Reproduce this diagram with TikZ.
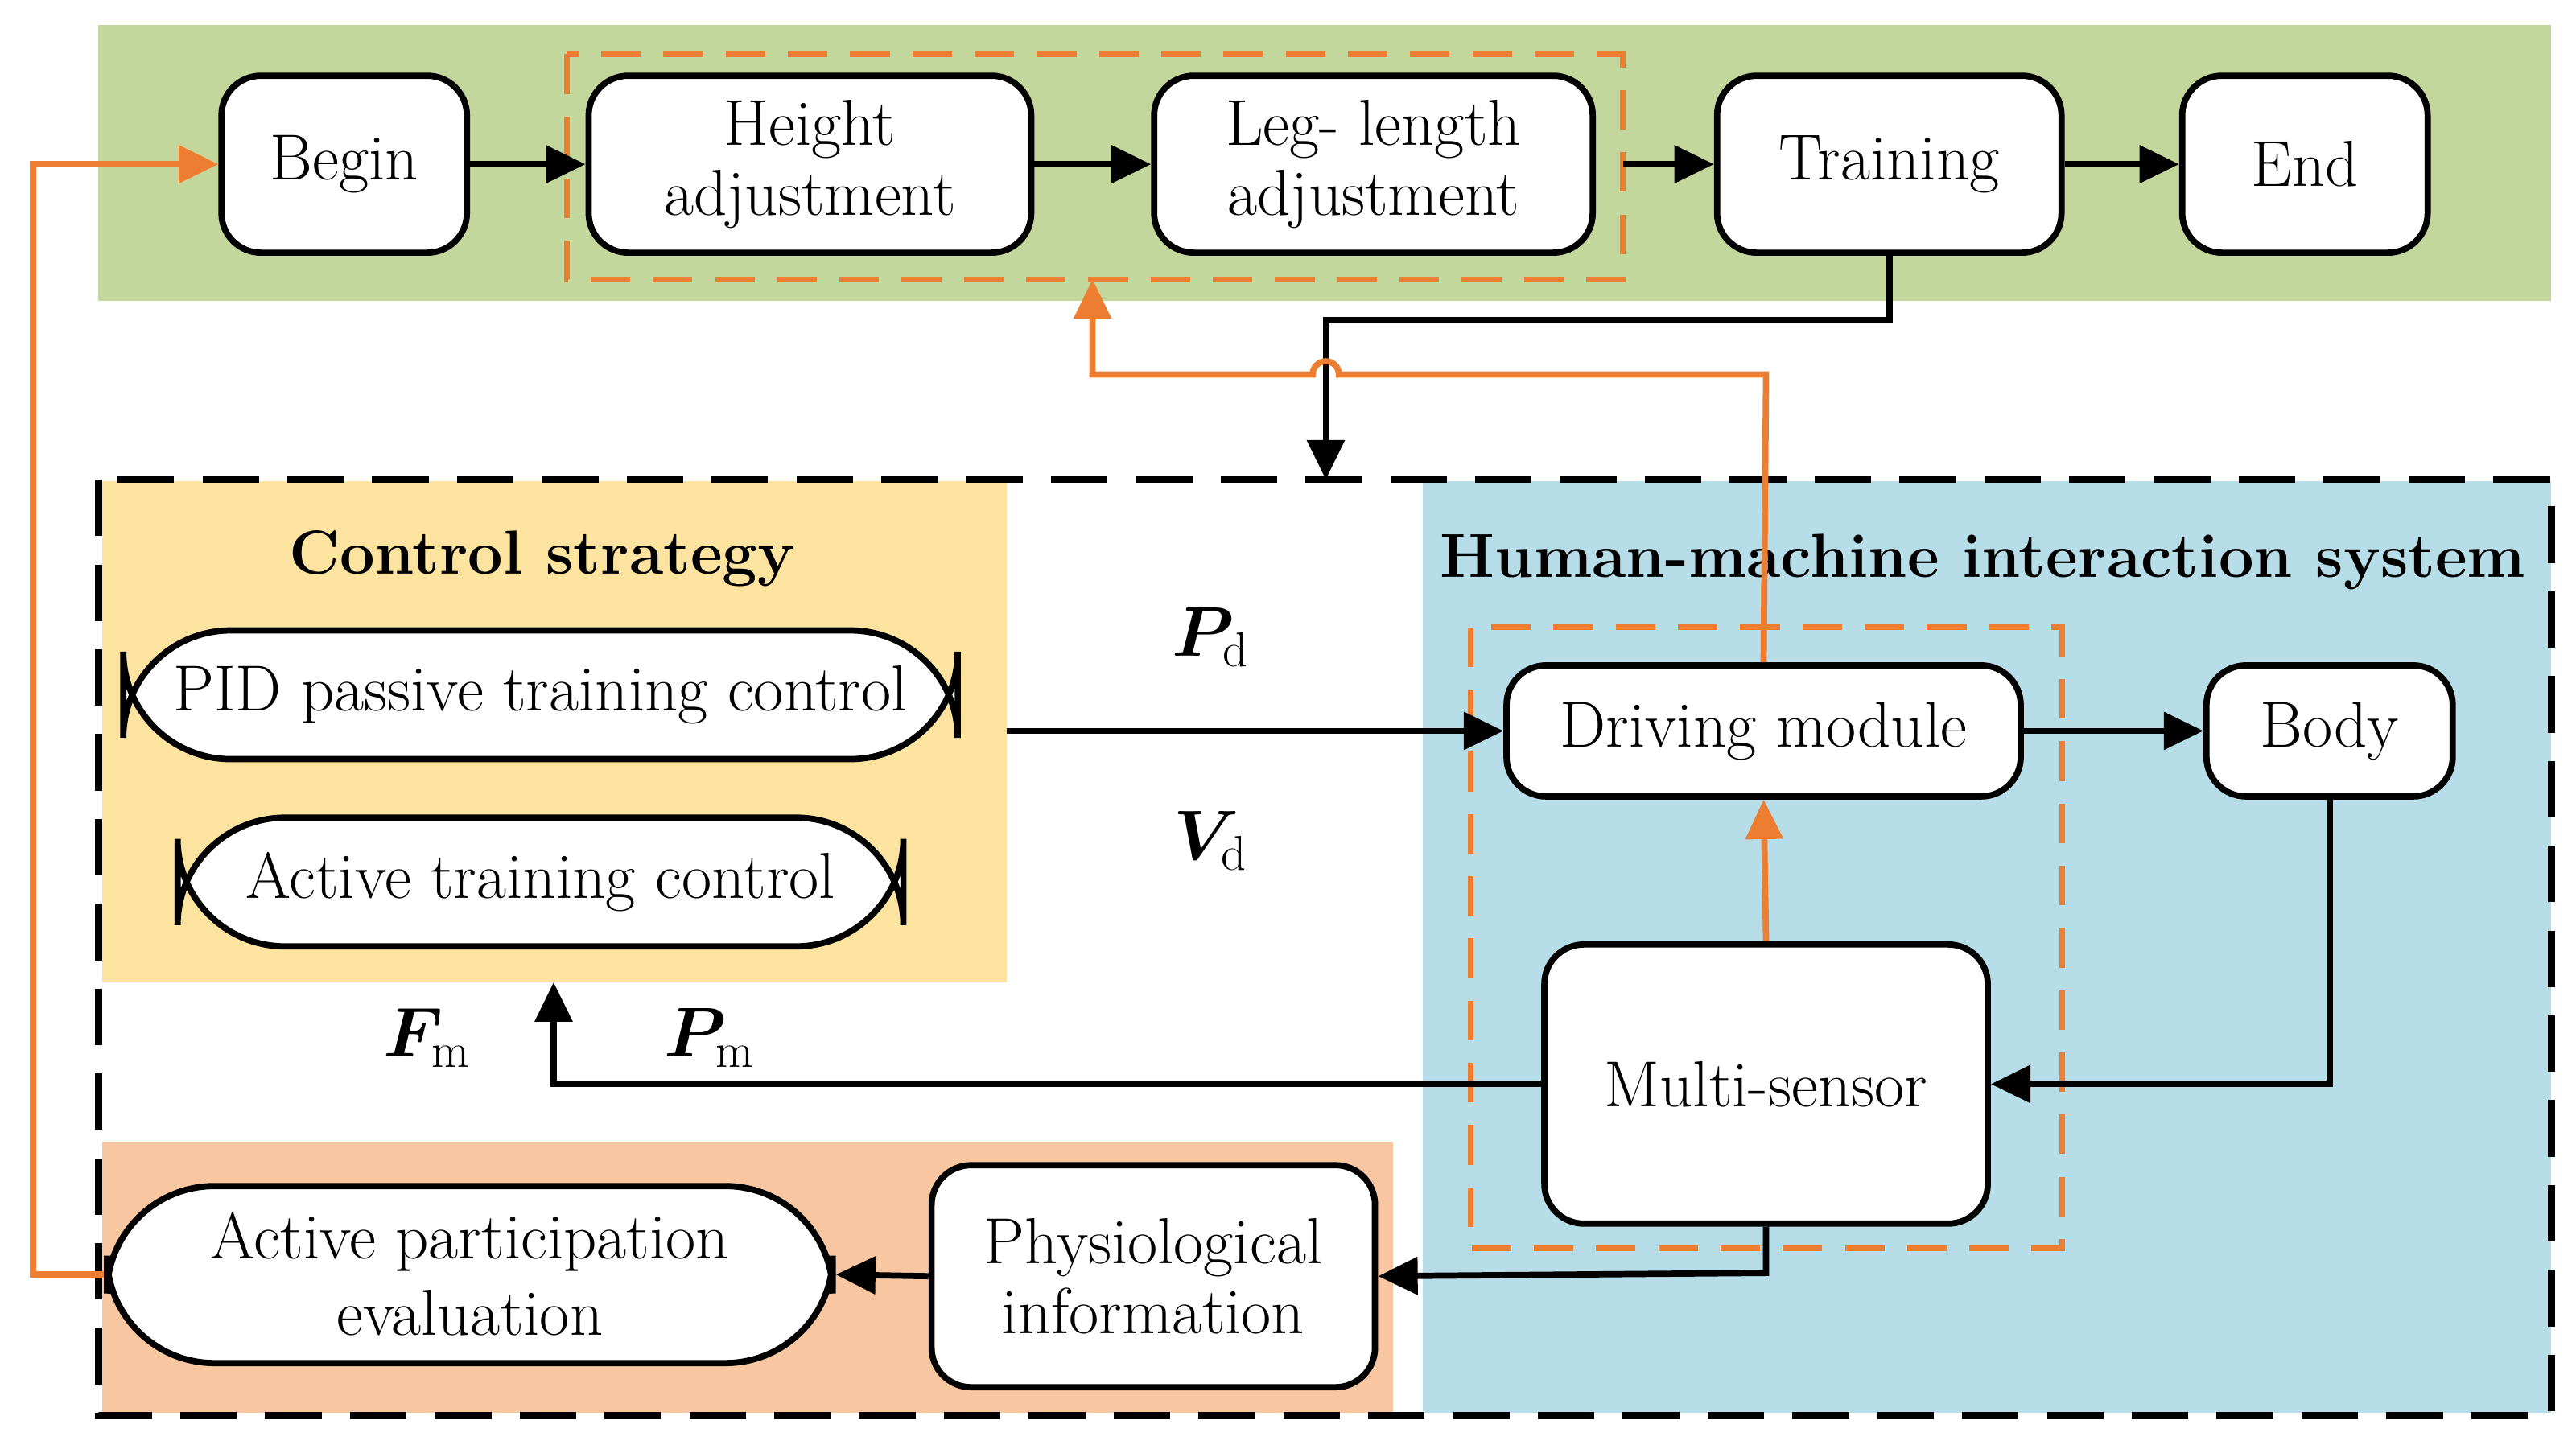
\documentclass[tikz,border=0pt]{standalone}
\usepackage{bm}
\usetikzlibrary{arrows.meta}
\begin{document}
\fontsize{23}{27}\selectfont
\begin{tikzpicture}[x=0.020415cm,y=-0.020415cm,
 box/.style={draw=black,line width=2.2pt,rounded corners=14pt,align=center,inner sep=0pt,font=\fontsize{23}{25}\selectfont},
 pill/.style={draw=black,line width=2.2pt,rounded corners=38pt,align=center,inner sep=0pt},
 ar/.style={line width=2.2pt,-{Triangle[length=14pt,width=13pt]}},
 oar/.style={line width=2.2pt,draw={rgb,255:red,237;green,125;blue,49},-{Triangle[length=14pt,width=13pt]}},
 od/.style={line width=2pt,draw={rgb,255:red,237;green,125;blue,49},dash pattern=on 14pt off 8pt},
 lab/.style={font=\fontsize{26}{28}\selectfont}]
\useasboundingbox (0,0) rectangle (1568,877);
\fill[fill={rgb,255:red,195;green,214;blue,155}] (60,15) rectangle (1553,183);
\fill[fill={rgb,255:red,183;green,221;blue,232}] (866,293) rectangle (1553,860);
\fill[fill={rgb,255:red,252;green,228;blue,160}] (62,293) rectangle (613,598);
\fill[fill={rgb,255:red,248;green,198;blue,160}] (62,695) rectangle (848,860);
\draw[line width=2.5pt,dash pattern=on 20pt off 10pt] (60,292) rectangle (1553,862);
\draw[od] (345,33) rectangle (988,170);
\draw[od] (895,382) rectangle (1255,760);

\node[box,fill=white,minimum width=3.05cm,minimum height=2.2cm] (begin) at (209.5,100) {Begin};
\node[box,fill=white,minimum width=5.5cm,minimum height=2.2cm] (height) at (493,100) {Height\\adjustment};
\node[box,fill=white,minimum width=5.45cm,minimum height=2.2cm] (leg) at (836,100) {Leg- length\\adjustment};
\node[box,fill=white,minimum width=4.28cm,minimum height=2.2cm] (train) at (1150,100) {Training};
\node[box,fill=white,minimum width=3.05cm,minimum height=2.2cm] (end) at (1403,100) {End};

\node[font=\bfseries\fontsize{22}{26}\selectfont] (cs) at (330,340) {Control strategy};
\node[font=\bfseries\fontsize{22}{26}\selectfont] (hm) at (1207,342) {Human-machine interaction system};
\node[pill,fill=white,minimum width=10.37cm,minimum height=1.6cm] (pid) at (329,423) {PID passive training control};
\node[pill,fill=white,minimum width=9.02cm,minimum height=1.6cm] (act) at (329,537) {Active training control};
\node[box,fill=white,minimum width=6.39cm,minimum height=1.63cm] (drive) at (1073.5,445) {Driving module};
\node[box,fill=white,minimum width=3.06cm,minimum height=1.63cm] (body) at (1418,445) {Body};
\node[box,fill=white,minimum width=5.51cm,minimum height=3.47cm] (ms) at (1075,660) {Multi-sensor};
\node[box,fill=white,minimum width=5.51cm,minimum height=2.76cm] (phys) at (702,777) {Physiological\\information};
\node[pill,fill=white,minimum width=9.02cm,minimum height=2.2cm] (ape) at (286,776) {Active participation\\evaluation};

\node[lab] (pd) at (737,388) {$\bm{P}_{\mathrm{d}}$};
\node[lab] (vd) at (737,512) {$\bm{V}_{\mathrm{d}}$};
\node[lab] (fm) at (260,632) {$\bm{F}_{\mathrm{m}}$};
\node[lab] (pm) at (432,632) {$\bm{P}_{\mathrm{m}}$};

\coordinate (odb) at (665,170);
\coordinate (csb) at (337,598);
\coordinate (bigtop) at (807,292);
\coordinate (ysr) at (613,445);

\draw[ar] (begin) -- (height);
\draw[ar] (height) -- (leg);
\draw[ar] (988,100) -- (train);
\draw[ar] (train) -- (end);
\draw[ar] (train.south) -- (1150,195) -- (807,195) -- (bigtop);
\draw[oar] (drive.north) -- (1075,228) -- (815,228) arc (0:-180:8) -- (665,228) -- (odb);
\draw[oar] (ms.north) -- (drive.south);
\draw[oar] (ape.west) -- (20,776) -- (20,100) -- (begin.west);
\draw[ar] (ysr) -- (drive.west);
\draw[ar] (drive) -- (body);
\draw[ar] (body.south) -- (1418,660) -- (ms.east);
\draw[ar] (ms.west) -- (337,660) -- (csb);
\draw[ar] (ms.south) -- (1075,775) -- (phys.east);
\draw[ar] (phys.west) -- (ape.east);
\end{tikzpicture}
\end{document}
